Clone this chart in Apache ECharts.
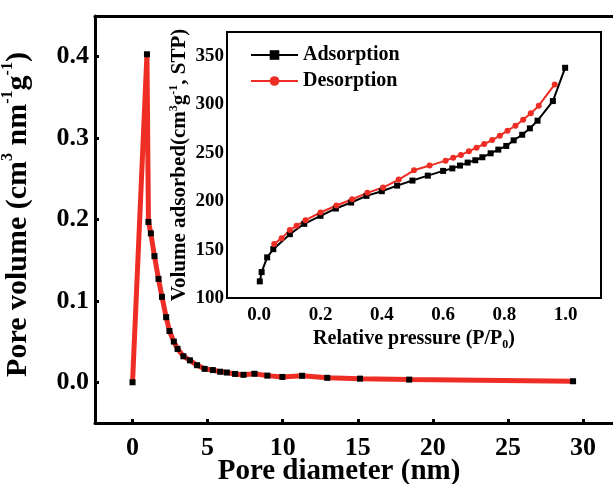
<!DOCTYPE html>
<html><head><meta charset="utf-8">
<script src="https://cdn.jsdelivr.net/npm/echarts@6/dist/echarts.min.js"></script>
<style>html,body{margin:0;padding:0;background:#fff}#c{width:613px;height:484px}</style>
</head><body><div id="c"></div>
<script>
// Main plot: pore size distribution
const poreD = [0, 0.96, 1.06, 1.22, 1.46, 1.73, 1.96, 2.24, 2.46, 2.75, 3.0, 3.39, 3.82, 4.3, 4.8, 5.35, 5.84, 6.28, 6.83, 7.39, 8.12, 8.98, 9.98, 11.29, 12.97, 15.15, 18.43, 29.34];
const poreV = [0, 0.403, 0.197, 0.183, 0.155, 0.127, 0.105, 0.080, 0.063, 0.050, 0.041, 0.032, 0.027, 0.021, 0.0165, 0.015, 0.013, 0.012, 0.0103, 0.0092, 0.0105, 0.0082, 0.0066, 0.008, 0.0055, 0.0045, 0.0033, 0.0013];
const mainXTicks = [0, 5, 10, 15, 20, 25, 30];
const mainYTicks = [0, 0.1, 0.2, 0.3, 0.4];
// Inset: N2 isotherm
const adsP = [0.002, 0.008, 0.026, 0.046, 0.1, 0.147, 0.2, 0.25, 0.30, 0.35, 0.40, 0.45, 0.50, 0.55, 0.60, 0.63, 0.655, 0.68, 0.705, 0.728, 0.755, 0.78, 0.806, 0.83, 0.858, 0.883, 0.908, 0.958, 0.998];
const adsV = [117.2, 126.8, 142, 150.5, 166, 176.7, 185, 192.5, 198.7, 205.6, 210.4, 216.2, 221.4, 226.5, 231.4, 234, 236.9, 240, 242.4, 245.5, 249.6, 253.4, 257.2, 263, 268.8, 275.4, 283.3, 303.6, 338];
const desP = [0.049, 0.073, 0.1, 0.122, 0.151, 0.2, 0.252, 0.303, 0.353, 0.404, 0.455, 0.505, 0.556, 0.608, 0.633, 0.658, 0.684, 0.709, 0.734, 0.76, 0.785, 0.81, 0.836, 0.861, 0.886, 0.912, 0.964];
const desV = [155.7, 161.9, 170.2, 174.6, 180.5, 188.4, 195.6, 202.1, 208.7, 214.2, 222.4, 232, 236.9, 242, 245.1, 247.9, 251.6, 255.4, 259.2, 263.3, 267.8, 273, 278.1, 284.3, 290.9, 298.8, 320.8];
const insetXTicks = [0, 0.2, 0.4, 0.6, 0.8, 1.0];
const insetYTicks = [100, 150, 200, 250, 300, 350];

const FF = 'Liberation Serif, Times New Roman, serif';
const RED = '#ee2d24';
const zip = (a, b) => a.map((v, i) => [v, b[i]]);

const chart = echarts.init(document.getElementById('c'));
chart.setOption({
  animation: false,
  backgroundColor: '#fff',
  grid: [
    {left: 95, top: 16, right: 0, bottom: 61, outerBoundsMode: 'none', containLabel: false},
    {left: 227, top: 32, width: 374, height: 266, outerBoundsMode: 'none', containLabel: false, show: true, backgroundColor: '#fff', borderColor: '#000', borderWidth: 2, z: 5}
  ],
  legend: {
    data: ['Adsorption', 'Desorption'],
    orient: 'vertical', left: 245, top: 40, z: 30,
    itemWidth: 47, itemHeight: 12, itemGap: 6,
    textStyle: {fontFamily: FF, fontWeight: 'bold', fontSize: 20, color: '#000'}
  },
  xAxis: [
    {type: 'value', gridIndex: 0, min: -2.5, max: 32,
     name: 'Pore diameter (nm)', nameLocation: 'middle', nameGap: 34, nameMoveOverlap: false,
     nameTextStyle: {fontFamily: FF, fontWeight: 'bold', fontSize: 29, color: '#000', padding: [0, 30, 0, 0]},
     splitLine: {show: false},
     axisLine: {onZero: false, lineStyle: {color: '#000', width: 3}},
     axisTick: {inside: true, length: 4, lineStyle: {width: 3}, customValues: mainXTicks},
     axisLabel: {customValues: mainXTicks, fontFamily: FF, fontWeight: 'bold', fontSize: 26, color: '#000', margin: 12}},
    {type: 'value', gridIndex: 0, min: -2.5, max: 32, position: 'top',
     splitLine: {show: false}, axisTick: {show: false}, axisLabel: {show: false},
     axisLine: {onZero: false, lineStyle: {color: '#000', width: 3}}},
    {type: 'value', gridIndex: 1, min: -0.105, max: 1.115,
     name: '{t|Relative pressure (P/P}{b|0}{t|)}', nameLocation: 'middle', nameGap: 29, nameMoveOverlap: false,
     nameTextStyle: {rich: {
       t: {fontFamily: FF, fontWeight: 'bold', fontSize: 20, color: '#000', lineHeight: 24},
       b: {fontFamily: FF, fontWeight: 'bold', fontSize: 12, color: '#000', verticalAlign: 'bottom', lineHeight: 24, padding: [8, 0, 0, 0]}}},
     splitLine: {show: false},
     axisLine: {show: false, onZero: false},
     axisTick: {inside: true, length: 4, lineStyle: {width: 1.5, color: '#000'}, customValues: insetXTicks},
     axisLabel: {customValues: insetXTicks, formatter: v => v.toFixed(1), fontFamily: FF, fontWeight: 'bold', fontSize: 19, color: '#000', margin: 8}}
  ],
  yAxis: [
    {type: 'value', gridIndex: 0, min: -0.05, max: 0.45,
     name: '{t|Pore volume (cm}{s|3}{t| nm}{s|-1}{t|g}{s|-1}{t|)}', nameLocation: 'middle', nameGap: 59, nameMoveOverlap: false,
     nameTextStyle: {padding: [0, 0, 0, 10], rich: {
       t: {fontFamily: FF, fontWeight: 'bold', fontSize: 30, color: '#000', lineHeight: 36},
       s: {fontFamily: FF, fontWeight: 'bold', fontSize: 16, color: '#000', verticalAlign: 'top', lineHeight: 36, padding: [0, 0, 15, 0]}}},
     splitLine: {show: false},
     axisLine: {onZero: false, lineStyle: {color: '#000', width: 3}},
     axisTick: {inside: true, length: 4, lineStyle: {width: 3}, customValues: mainYTicks},
     axisLabel: {customValues: mainYTicks, formatter: v => v.toFixed(1), fontFamily: FF, fontWeight: 'bold', fontSize: 26, color: '#000', margin: 6}},
    {type: 'value', gridIndex: 1, min: 100, max: 375,
     name: '{t|Volume adsorbed(cm}{s|3}{t|g}{s|-1}{t|, STP)}', nameLocation: 'middle', nameGap: 35, nameMoveOverlap: false,
     nameTextStyle: {rich: {
       t: {fontFamily: FF, fontWeight: 'bold', fontSize: 21, color: '#000', lineHeight: 24},
       s: {fontFamily: FF, fontWeight: 'bold', fontSize: 12, color: '#000', verticalAlign: 'top', lineHeight: 24, padding: [0, 0, 10, 0]}}},
     splitLine: {show: false},
     axisLine: {show: false, onZero: false},
     axisTick: {inside: true, length: 4, lineStyle: {width: 1.5, color: '#000'}, customValues: insetYTicks},
     axisLabel: {customValues: insetYTicks, fontFamily: FF, fontWeight: 'bold', fontSize: 19, color: '#000', margin: 3}}
  ],
  series: [
    {name: 'PSD', type: 'line', xAxisIndex: 0, yAxisIndex: 0, data: zip(poreD, poreV),
     symbol: 'rect', symbolSize: 6, itemStyle: {color: '#000'},
     lineStyle: {color: RED, width: 5}, z: 2},
    {name: 'Adsorption', type: 'line', xAxisIndex: 2, yAxisIndex: 1, data: zip(adsP, adsV),
     symbol: 'rect', symbolSize: 6, itemStyle: {color: '#000'},
     lineStyle: {color: '#000', width: 2}, z: 10},
    {name: 'Desorption', type: 'line', xAxisIndex: 2, yAxisIndex: 1, data: zip(desP, desV),
     symbol: 'circle', symbolSize: 6, itemStyle: {color: RED},
     lineStyle: {color: RED, width: 2}, z: 10}
  ]
});
</script></body></html>
